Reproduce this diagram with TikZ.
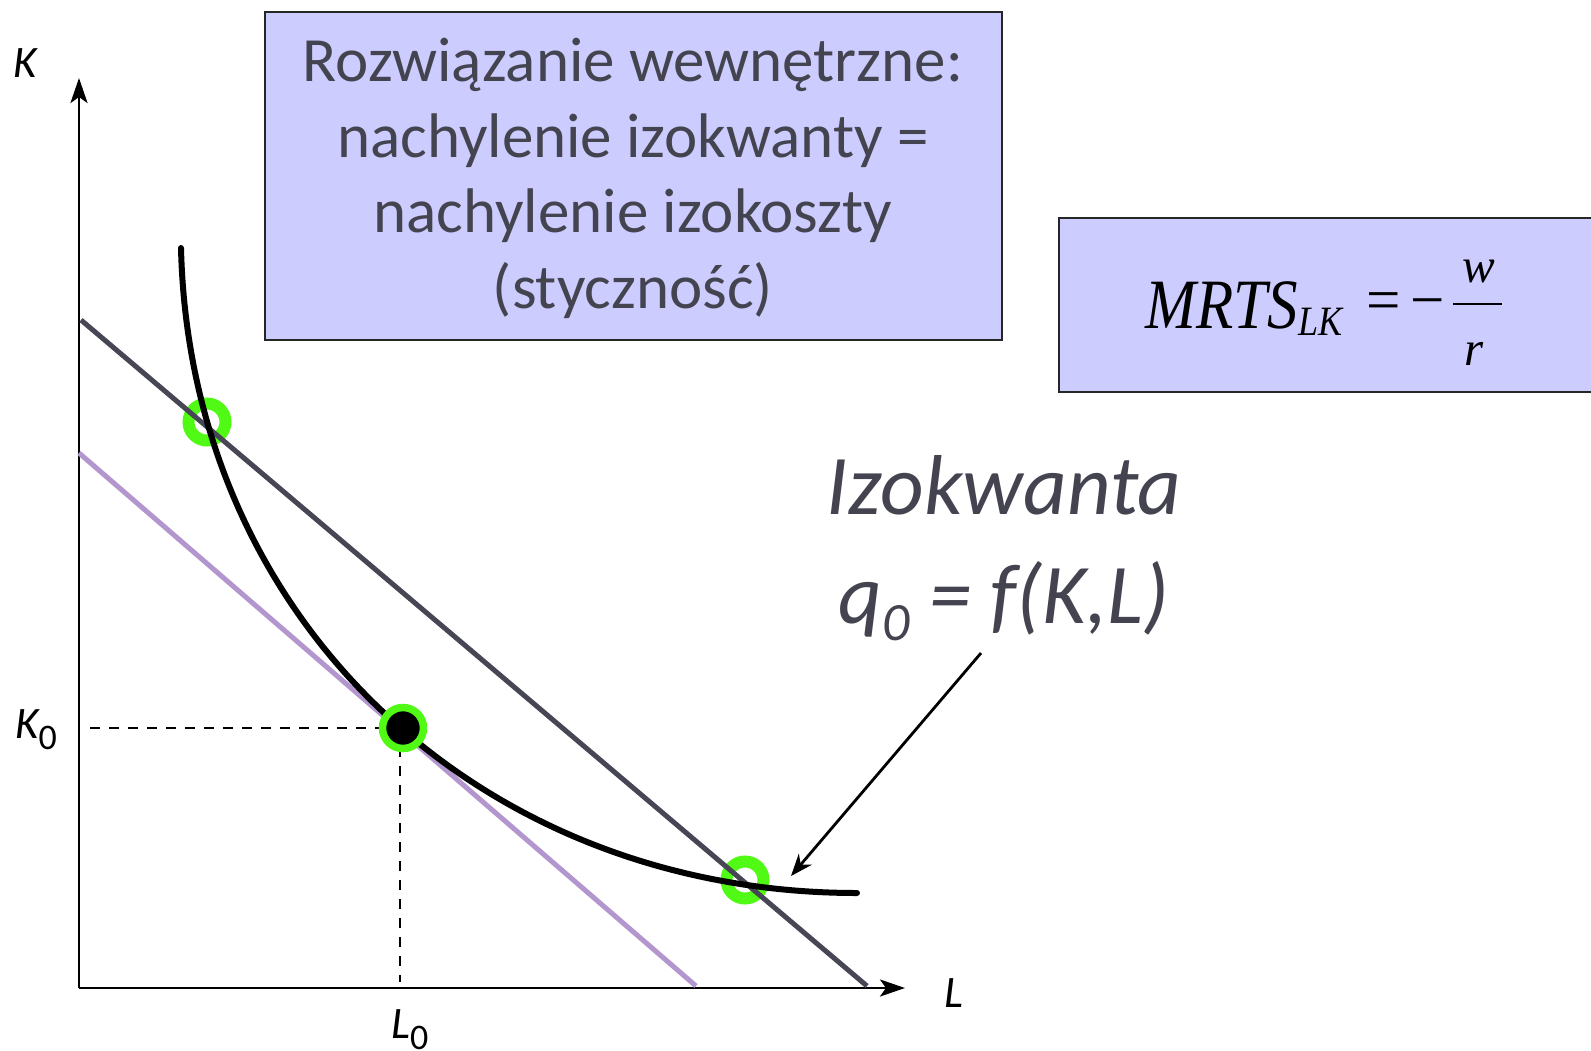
\documentclass[tikz,border=0pt]{standalone}
\usepackage{fontspec}
\usepackage{graphicx}
\setmainfont{Carlito}
\newfontfamily\tnr{Liberation Serif}
\usetikzlibrary{arrows.meta}
\definecolor{boxfill}{RGB}{204,204,255}
\definecolor{txt}{RGB}{68,68,80}
\definecolor{costline}{RGB}{70,70,84}
\definecolor{purp}{RGB}{178,150,205}
\definecolor{ringgreen}{RGB}{80,250,20}
\tikzset{
  boxstyle/.style={draw=black!85, line width=2.5pt, fill=boxfill, inner sep=0pt, rectangle},
  boxtext/.style={text=txt, inner sep=0pt, anchor=base, font=\fontsize{63}{72}\selectfont},
  axlbl/.style={inner sep=0pt, anchor=base west, font=\fontsize{45}{45}\selectfont\itshape},
  frm/.style={inner sep=0pt, font=\tnr\fontsize{61}{61}\selectfont},
  axisline/.style={line width=2.8pt, -{Stealth[length=25pt, width=17pt, inset=6pt]}},
  dashline/.style={line width=2.6pt, dash pattern=on 10pt off 9pt},
  ringstyle/.style={circle, draw=ringgreen, line width=12pt, minimum size=37pt, inner sep=0pt},
  dotstyle/.style={circle, fill=black, draw=ringgreen, line width=7.5pt, minimum size=41pt, inner sep=0pt},
  iso/.style={line width=6pt, line cap=round},
  arr/.style={line width=2.8pt, -{Stealth[length=22pt, width=17pt, inset=7pt]}},
  izo/.style={inner sep=0pt, anchor=base, text=txt, font=\fontsize{85}{85}\selectfont\itshape},
}
\begin{document}
\begin{tikzpicture}[x=1pt, y=-1pt]
\useasboundingbox (0,0) rectangle (1591,1050);

% text box 1
\node[boxstyle, minimum width=737pt, minimum height=328pt] (box1) at (633.5,176) {};
\node[boxtext] (t1) at (633,81) {Rozwiązanie wewnętrzne:};
\node[boxtext] (t2) at (633,157) {nachylenie izokwanty =};
\node[boxtext] (t3) at (633,232) {nachylenie izokoszty};
\node[boxtext] (t4) at (633,308) {(styczność)};

% formula box
\node[boxstyle, minimum width=560pt, minimum height=174pt] (box2) at (1339,305) {};
\node[frm, anchor=base west] (mrts) at (1145,328) {\itshape\scalebox{1}[1.16]{MRTS}};
\node[frm, anchor=base west, font=\tnr\fontsize{36}{36}\selectfont\itshape] (lk) at (1298,335) {\scalebox{1}[1.16]{LK}};
\node[frm, anchor=base] (eq) at (1384,320) {=};
\node[frm, anchor=base] (minus) at (1428,320) {−};
\node[frm, anchor=base, font=\tnr\fontsize{49}{49}\selectfont\itshape] (fw) at (1479,282) {w};
\node[frm, anchor=base, font=\tnr\fontsize{49}{49}\selectfont\itshape] (fr) at (1474,365) {r};
\coordinate (barl) at (1453,304);
\coordinate (barr) at (1502,304);
\draw[line width=2.5pt] (barl) -- (barr);

% axes
\coordinate (O) at (79,988);
\coordinate (ytip) at (79,78);
\coordinate (xtip) at (905,988);
\draw[axisline] (O) -- (ytip);
\draw[axisline] (O) -- (xtip);
\node[axlbl] (klbl) at (13,77) {K};
\node[axlbl] (llbl) at (944,1007) {L};
\node[axlbl] (k0lbl) at (15,738) {K\raisebox{-11pt}{\upshape\fontsize{36}{36}\selectfont 0}};
\node[axlbl] (l0lbl) at (391,1038) {L\raisebox{-11pt}{\upshape\fontsize{36}{36}\selectfont 0}};

% isocost lines
\coordinate (c1a) at (81,320);
\coordinate (c1b) at (867,986);
\coordinate (c0a) at (79,453);
\coordinate (c0b) at (696,986);
\draw[line width=5pt, color=purp] (c0a) -- (c0b);

% rings under lines
\node[ringstyle] (r1) at (207,422) {};
\node[ringstyle] (r2) at (745,880) {};

\draw[line width=5pt, color=costline] (c1a) -- (c1b);

% isoquant
\coordinate (iqs) at (181,248);
\coordinate (iqe) at (857,893);
\draw[iso] (iqs) .. controls (190,620) and (480,893) .. (iqe);

% dashed guides
\coordinate (kd) at (90,728);
\coordinate (ld) at (400,982);
\coordinate (dv) at (400,728);
\draw[dashline] (kd) -- (dv);
\draw[dashline] (dv) -- (ld);

% tangency point
\node[dotstyle] (dot) at (403,728) {};

% isoquant label
\node[izo] (iz1) at (1004,514) {Izokwanta};
\node[izo] (iz2) at (1004,623) {q\raisebox{-17pt}{\fontsize{54}{54}\selectfont 0} = f(K,L)};

\coordinate (atail) at (981,653);
\coordinate (ahead) at (791,876);
\draw[arr] (atail) -- (ahead);
\end{tikzpicture}
\end{document}
